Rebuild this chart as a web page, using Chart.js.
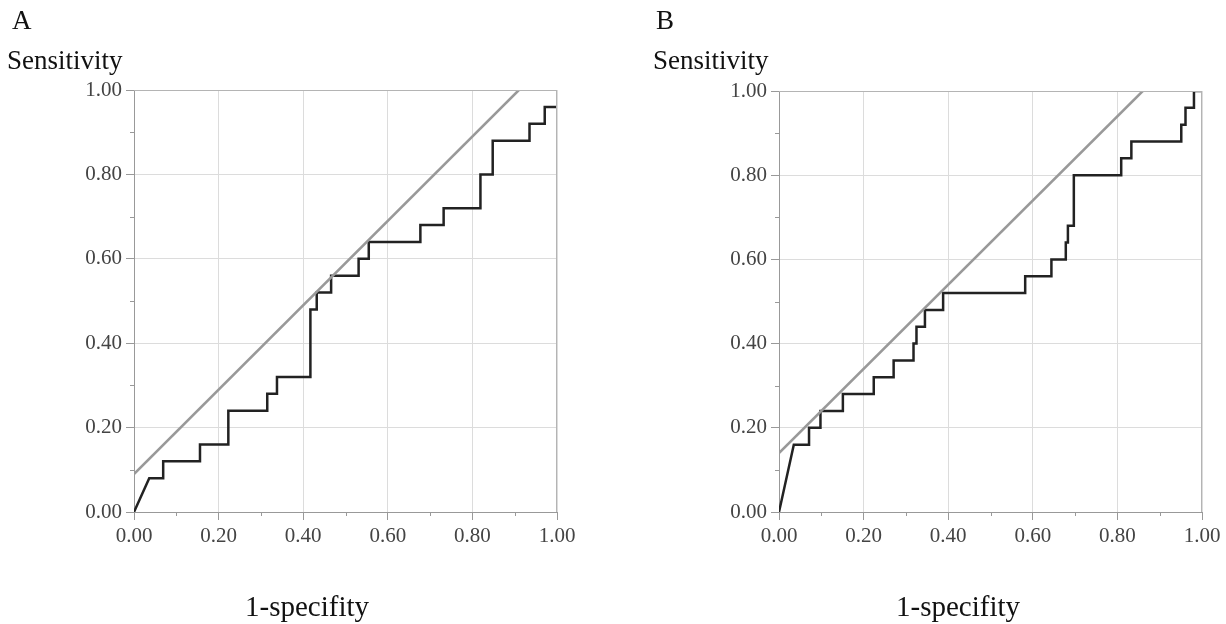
<!DOCTYPE html>
<html>
<head>
<meta charset="utf-8">
<script src="https://cdn.jsdelivr.net/npm/chart.js@4/dist/chart.umd.min.js"></script>
<style>
  body { margin: 0; background: #fff; width: 1226px; height: 624px; position: relative; overflow: hidden; font-family: "Liberation Serif", "DejaVu Serif", serif; color: #111; }
  .panel { position: absolute; top: 0; width: 613px; height: 624px; }
  .panel canvas { position: absolute; left: 0; top: 0; }
  .lbl { position: absolute; white-space: nowrap; line-height: 1; }
  .letter { font-size: 27px; top: 7px; }
  .ytitle { font-size: 27px; top: 47px; }
  .xtitle { font-size: 29px; top: 592px; }
</style>
</head>
<body>
<div class="panel" style="left:0">
  <canvas id="chartA" width="613" height="624"></canvas>
  <div class="lbl letter" style="left:12px">A</div>
  <div class="lbl ytitle" style="left:7px">Sensitivity</div>
  <div class="lbl xtitle" style="left:245px">1-specifity</div>
</div>
<div class="panel" style="left:613px">
  <canvas id="chartB" width="613" height="624"></canvas>
  <div class="lbl letter" style="left:43px">B</div>
  <div class="lbl ytitle" style="left:40px">Sensitivity</div>
  <div class="lbl xtitle" style="left:283px">1-specifity</div>
</div>
<script>
// tick labels shared by both axes
const tickValues = [0, 0.2, 0.4, 0.6, 0.8, 1.0];

// Panel A: ROC curve corners (1-specificity, sensitivity)
const fprA = [0, 0.036, 0.069, 0.069, 0.156, 0.156, 0.223, 0.223, 0.315, 0.315, 0.338, 0.338,
  0.417, 0.417, 0.432, 0.432, 0.466, 0.466, 0.531, 0.531, 0.555, 0.555, 0.677, 0.677,
  0.732, 0.732, 0.819, 0.819, 0.848, 0.848, 0.935, 0.935, 0.971, 0.971, 1.0];
const tprA = [0, 0.08, 0.08, 0.12, 0.12, 0.16, 0.16, 0.24, 0.24, 0.28, 0.28, 0.32,
  0.32, 0.48, 0.48, 0.52, 0.52, 0.56, 0.56, 0.60, 0.60, 0.64, 0.64, 0.68,
  0.68, 0.72, 0.72, 0.80, 0.80, 0.88, 0.88, 0.92, 0.92, 0.96, 0.96];
const refXA = [0, 0.91];
const refYA = [0.09, 1.0];

// Panel B
const fprB = [0, 0.035, 0.071, 0.071, 0.098, 0.098, 0.151, 0.151, 0.224, 0.224, 0.271, 0.271,
  0.318, 0.318, 0.325, 0.325, 0.345, 0.345, 0.388, 0.388, 0.582, 0.582, 0.644, 0.644,
  0.678, 0.678, 0.683, 0.683, 0.697, 0.697, 0.809, 0.809, 0.833, 0.833, 0.951, 0.951,
  0.961, 0.961, 0.981, 0.981, 1.0];
const tprB = [0, 0.16, 0.16, 0.20, 0.20, 0.24, 0.24, 0.28, 0.28, 0.32, 0.32, 0.36,
  0.36, 0.40, 0.40, 0.44, 0.44, 0.48, 0.48, 0.52, 0.52, 0.56, 0.56, 0.60,
  0.60, 0.64, 0.64, 0.68, 0.68, 0.80, 0.80, 0.84, 0.84, 0.88, 0.88, 0.92,
  0.92, 0.96, 0.96, 1.0, 1.0];
const refXB = [0, 0.86];
const refYB = [0.14, 1.0];

function toPoints(xs, ys) {
  return xs.map((x, i) => ({ x: x, y: ys[i] }));
}

// box round the plot + short minor ticks halfway between labels
const framePlugin = {
  id: 'frame',
  afterDraw(chart) {
    const ctx = chart.ctx;
    const a = chart.chartArea;
    ctx.save();
    ctx.strokeStyle = '#b4b4b4';
    ctx.lineWidth = 1;
    ctx.beginPath();
    ctx.moveTo(a.left, a.top + 0.5);
    ctx.lineTo(a.right, a.top + 0.5);
    ctx.moveTo(a.right - 0.5, a.top);
    ctx.lineTo(a.right - 0.5, a.bottom);
    ctx.stroke();

    ctx.strokeStyle = '#999';
    ctx.beginPath();
    const xs = chart.scales.x, ys = chart.scales.y;
    for (let i = 0; i < tickValues.length - 1; i++) {
      const mid = (tickValues[i] + tickValues[i + 1]) / 2;
      const px = Math.round(xs.getPixelForValue(mid)) + 0.5;
      ctx.moveTo(px, a.bottom);
      ctx.lineTo(px, a.bottom + 4);
      const py = Math.round(ys.getPixelForValue(mid)) + 0.5;
      ctx.moveTo(a.left, py);
      ctx.lineTo(a.left - 4, py);
    }
    ctx.stroke();
    ctx.restore();
  }
};

function axis(fit) {
  return {
    type: 'linear',
    min: 0,
    max: 1,
    afterBuildTicks: s => { s.ticks = tickValues.map(v => ({ value: v })); },
    afterFit: fit,
    grid: { color: '#dcdcdc', lineWidth: 1, tickLength: 8, tickColor: '#999' },
    border: { color: '#999', width: 1 },
    ticks: {
      padding: 4,
      color: '#444',
      font: { family: '"Liberation Serif", serif', size: 21 },
      callback: v => Number(v).toFixed(2)
    }
  };
}

function makeChart(id, curve, ref, yWidth, pad) {
  new Chart(document.getElementById(id), {
    type: 'scatter',
    data: {
      datasets: [{
        data: ref,
        showLine: true,
        borderColor: '#999999',
        borderWidth: 2.5,
        pointRadius: 0
      }, {
        data: curve,
        showLine: true,
        borderColor: '#222222',
        borderWidth: 2.5,
        pointRadius: 0
      }]
    },
    options: {
      responsive: false,
      animation: false,
      layout: { padding: pad },
      plugins: { legend: { display: false }, tooltip: { enabled: false } },
      scales: {
        x: axis(s => { s.height = 112; }),
        y: axis(s => { s.width = yWidth; })
      }
    },
    plugins: [framePlugin]
  });
}

makeChart('chartA', toPoints(fprA, tprA), toPoints(refXA, refYA), 134,
  { left: 0, right: 56, top: 90, bottom: 0 });
makeChart('chartB', toPoints(fprB, tprB), toPoints(refXB, refYB), 166,
  { left: 0, right: 24, top: 91, bottom: 0 });
</script>
</body>
</html>
